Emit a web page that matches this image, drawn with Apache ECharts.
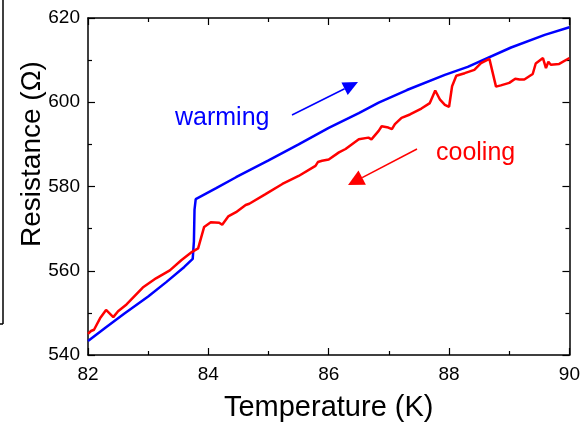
<!DOCTYPE html>
<html>
<head>
<meta charset="utf-8">
<script src="https://cdn.jsdelivr.net/npm/echarts@6/dist/echarts.min.js"></script>
<style>
  html, body { margin: 0; padding: 0; background: #fff; }
  #main { width: 583px; height: 427px; }
</style>
</head>
<body>
<div id="main"></div>
<script>
// warming run (blue)
var warmTemp = [82.00, 82.30, 82.60, 83.00, 83.30, 83.60, 83.74, 83.76, 83.77, 83.79, 84.13, 84.46, 85.00,
  85.50, 86.00, 86.50, 86.83, 87.30, 87.93, 88.31, 89.03, 89.59, 90.00]
var warmRes = [543.3, 546.6, 549.8, 553.9, 557.3, 560.9, 562.8, 567.0, 574.5, 577.0, 579.6, 582.2, 586.2,
  590.0, 593.9, 597.4, 599.9, 602.9, 606.5, 608.4, 613.0, 616.0, 617.8]
// cooling run (red)
var coolTemp = [82.00, 82.05, 82.10, 82.20, 82.30, 82.42, 82.50, 82.64, 82.91, 83.13, 83.36, 83.55, 83.73,
  83.83, 83.93, 84.04, 84.18, 84.23, 84.33, 84.46, 84.62, 84.68, 84.95, 85.23, 85.50, 85.78, 85.82, 85.89,
  86.00, 86.17, 86.28, 86.50, 86.66, 86.71, 86.83, 86.88, 86.99, 87.05, 87.10, 87.21, 87.35, 87.54, 87.68,
  87.77, 87.85, 87.93, 88.00, 88.05, 88.12, 88.26, 88.42, 88.53, 88.67, 88.78, 88.86, 89.00, 89.10, 89.17,
  89.25, 89.39, 89.44, 89.56, 89.61, 89.65, 89.69, 89.83, 90.00]
var coolRes = [545.0, 545.7, 546.0, 548.7, 550.7, 549.0, 550.4, 552.0, 556.0, 558.2, 560.1, 562.5, 564.5,
  565.3, 570.4, 571.5, 571.4, 570.9, 572.9, 573.9, 575.6, 575.9, 578.2, 580.6, 582.5, 584.9, 585.8, 586.1,
  586.4, 588.1, 588.9, 591.2, 591.6, 591.2, 593.2, 594.3, 594.0, 593.6, 594.8, 596.3, 597.1, 598.5, 599.8,
  602.8, 600.6, 599.4, 598.9, 603.8, 606.3, 606.9, 607.7, 609.3, 610.3, 603.7, 604.0, 604.6, 605.6, 605.4,
  605.4, 606.7, 609.2, 610.5, 608.1, 609.6, 608.9, 609.1, 610.5]
var xTicks = [82, 84, 86, 88, 90]
var yTicks = [540, 560, 580, 600, 620]

function pairs(xs, ys) {
  var out = []
  xs.forEach(function (v, i) {
    out.push([v, ys[i]])
  })
  return out
}

// arrow = line + filled head, in pixels
function arrow(x1, y1, x2, y2, len, half, color) {
  var dx = x2 - x1, dy = y2 - y1
  var d = Math.sqrt(dx * dx + dy * dy)
  var ux = dx / d, uy = dy / d
  var bx = x2 - ux * len, by = y2 - uy * len
  return [
    { type: 'line', shape: { x1: x1, y1: y1, x2: bx, y2: by }, style: { stroke: color, lineWidth: 1.5 } },
    {
      type: 'polygon',
      shape: { points: [[x2, y2], [bx - uy * half, by + ux * half], [bx + uy * half, by - ux * half]] },
      style: { fill: color }
    }
  ]
}

var font = 'Liberation Sans, Arial, sans-serif'
var axisLine = { show: true, onZero: false, lineStyle: { color: '#000', width: 1.5 } }

function xAxisCfg(pos, showLabel) {
  return {
    type: 'value', position: pos, min: xTicks[0], max: xTicks[xTicks.length - 1], interval: 2,
    axisLine: axisLine,
    axisTick: { show: true, inside: true, length: 7, lineStyle: { color: '#000', width: 1.2 } },
    minorTick: { show: true, splitNumber: 2, length: 4, lineStyle: { color: '#000', width: 1.2 } },
    splitLine: { show: false },
    axisLabel: { show: showLabel, color: '#000', fontSize: 19, fontFamily: font, margin: 10 }
  }
}
function yAxisCfg(pos, showLabel) {
  return {
    type: 'value', position: pos, min: yTicks[0], max: yTicks[yTicks.length - 1], interval: 20,
    axisLine: axisLine,
    axisTick: { show: true, inside: true, length: 7, lineStyle: { color: '#000', width: 1.2 } },
    minorTick: { show: true, splitNumber: 2, length: 4, lineStyle: { color: '#000', width: 1.2 } },
    splitLine: { show: false },
    axisLabel: { show: showLabel, color: '#000', fontSize: 19, fontFamily: font, margin: 8 }
  }
}

var bottomX = xAxisCfg('bottom', true)
bottomX.name = 'Temperature (K)'
bottomX.nameLocation = 'middle'
bottomX.nameGap = 38
bottomX.nameTextStyle = { color: '#000', fontSize: 29, fontFamily: font }

var chart = echarts.init(document.getElementById('main'))
chart.setOption({
  backgroundColor: '#fff',
  animation: false,
  grid: { left: 88, right: 11, top: 18, bottom: 70 },
  xAxis: [bottomX, xAxisCfg('top', false)],
  yAxis: [yAxisCfg('left', true), yAxisCfg('right', false)],
  series: [
    {
      name: 'warming', type: 'line', data: pairs(warmTemp, warmRes), showSymbol: false,
      lineStyle: { color: '#0000ff', width: 2.5 }, itemStyle: { color: '#0000ff' }
    },
    {
      name: 'cooling', type: 'line', data: pairs(coolTemp, coolRes), showSymbol: false,
      lineStyle: { color: '#ff0000', width: 2.5 }, itemStyle: { color: '#ff0000' }
    }
  ],
  graphic: [
    { type: 'line', shape: { x1: 3, y1: 0, x2: 3, y2: 324 }, style: { stroke: '#000', lineWidth: 1.5 } },
    { type: 'line', shape: { x1: 0, y1: 324, x2: 3, y2: 324 }, style: { stroke: '#000', lineWidth: 1.5 } },
    {
      type: 'text', x: 32, y: 154, rotation: Math.PI / 2,
      style: { text: 'Resistance (Ω)', fill: '#000', font: '28px ' + font, textAlign: 'center', textVerticalAlign: 'middle' }
    },
    {
      type: 'text', x: 175, y: 118,
      style: { text: 'warming', fill: '#0000ff', font: '25px ' + font, textAlign: 'left', textVerticalAlign: 'middle' }
    },
    {
      type: 'text', x: 436, y: 153,
      style: { text: 'cooling', fill: '#ff0000', font: '25px ' + font, textAlign: 'left', textVerticalAlign: 'middle' }
    }
  ].concat(arrow(292, 115, 358, 82, 15, 7, '#0000ff'), arrow(417, 149, 348, 185, 16, 8, '#ff0000'))
})
</script>
</body>
</html>
